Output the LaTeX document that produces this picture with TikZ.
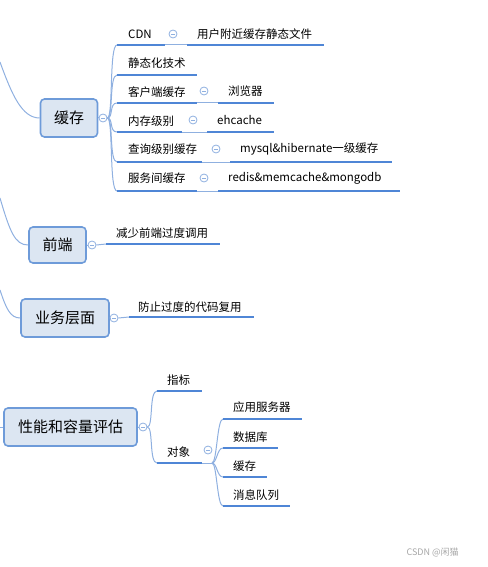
\documentclass[tikz,border=0pt]{standalone}
\usepackage{fontspec}
\setmainfont{Noto Sans CJK SC}
\usepackage{tikz}
\usetikzlibrary{calc}
\definecolor{mapBlue}{HTML}{4F86D6}
\definecolor{mapLine}{HTML}{8FB0E0}
\definecolor{mapFill}{HTML}{DCE6F2}
\definecolor{mapEdge}{HTML}{6E9BD9}
\tikzset{
	topic/.style={draw=mapEdge, line width=1.6pt, fill=mapFill, rounded corners=4pt, inner sep=0pt, font=\fontsize{15}{17}\selectfont},
	leaf/.style={anchor=west, inner sep=0pt, font=\fontsize{11.5}{13}\selectfont},
	uline/.style={mapBlue, line width=2.4pt},
	twig/.style={mapLine, line width=1pt},
	fold/.style={circle, draw=mapLine, fill=white, line width=0.8pt, minimum size=8pt, inner sep=0pt,
		path picture={\draw[mapLine, line width=0.8pt] ($(path picture bounding box.center)+(-2.2pt,0)$) -- ($(path picture bounding box.center)+(2.2pt,0)$);}}
}

\begin{document}
\begin{tikzpicture}[x=1pt, y=-1pt]
	\useasboundingbox (0,0) rectangle (487,567);
	% \draw[red] (0,0) grid[step=50] (487,567);

	% top level topics
	\node[topic, minimum width=57pt, minimum height=38pt] (cache) at (69,118) {缓存};
	\node[topic, minimum width=57pt, minimum height=36pt] (front) at (57.5,245) {前端};
	\node[topic, minimum width=88pt, minimum height=38pt] (biz) at (65,318) {业务层面};
	\node[topic, minimum width=133pt, minimum height=38pt] (perf) at (70.5,427) {性能和容量评估};

	\coordinate (r1) at (0,62);
	\coordinate (r2) at (0,198);
	\coordinate (r3) at (0,290);
	\coordinate (r4) at (0,427);
	\draw[twig] (r1) .. controls (12,95) and (22,118) .. (cache.west);
	\draw[twig] (r2) .. controls (10,232) and (15,245) .. (front.west);
	\draw[twig] (r3) .. controls (6,308) and (10,318) .. (biz.west);
	\draw[twig] (r4) -- (perf.west);

	\node[fold] (fc) at (103,118) {};
	\node[fold] (ff) at (92,245) {};
	\node[fold] (fb) at (114,318) {};
	\node[fold] (fp) at (143,427) {};
	\draw[twig] (cache.east) -- (fc.west);
	\draw[twig] (front.east) -- (ff.west);
	\draw[twig] (biz.east) -- (fb.west);
	\draw[twig] (perf.east) -- (fp.west);

	% children of cache
	\coordinate (c1a) at (117,45);  \coordinate (c1b) at (165,45);
	\coordinate (c2a) at (117,75);  \coordinate (c2b) at (197,75);
	\coordinate (c3a) at (117,103); \coordinate (c3b) at (197,103);
	\coordinate (c4a) at (117,132); \coordinate (c4b) at (182,132);
	\coordinate (c5a) at (117,162); \coordinate (c5b) at (202,162);
	\coordinate (c6a) at (117,191); \coordinate (c6b) at (197,191);
	\foreach \k in {1,...,6}
		\draw[twig] (fc.east) .. controls +(6,0) and +(-8,0) .. (c\k a);
	\foreach \k in {1,...,6}
		\draw[uline] (c\k a) -- (c\k b);
	\node[leaf] (cdn) at (128,34) {CDN};
	\node[leaf] (stat) at (128,63) {静态化技术};
	\node[leaf] (client) at (128,92) {客户端缓存};
	\node[leaf] (mem) at (128,121) {内存级别};
	\node[leaf] (query) at (128,149) {查询级别缓存};
	\node[leaf] (svc) at (128,178) {服务间缓存};

	% grandchildren of cache
	\coordinate (g1a) at (187,45);  \coordinate (g1b) at (324,45);
	\coordinate (g3a) at (218,103); \coordinate (g3b) at (274,103);
	\coordinate (g4a) at (207,132); \coordinate (g4b) at (274,132);
	\coordinate (g5a) at (230,162); \coordinate (g5b) at (392,162);
	\coordinate (g6a) at (218,191); \coordinate (g6b) at (400,191);
	\foreach \k in {1,3,4,5,6}{
		\draw[twig] (c\k b) -- (g\k a);
		\draw[uline] (g\k a) -- (g\k b);
	}
	\node[fold] (f1) at (173,34) {};
	\node[fold] (f3) at (204,91) {};
	\node[fold] (f4) at (193,120) {};
	\node[fold] (f5) at (216,149) {};
	\node[fold] (f6) at (204,178) {};
	\node[leaf] (near) at (197,34) {用户附近缓存静态文件};
	\node[leaf] (browser) at (228,91) {浏览器};
	\node[leaf] (ehc) at (217,120) {ehcache};
	\node[leaf] (mysql) at (240,149) {mysql\&hibernate一级缓存};
	\node[leaf] (redis) at (228,178) {redis\&memcache\&mongodb};

	% front and business
	\coordinate (fa) at (106,244); \coordinate (fz) at (220,244);
	\coordinate (ba) at (129,317); \coordinate (bz) at (254,317);
	\draw[twig] (ff.east) -- (fa);
	\draw[twig] (fb.east) -- (ba);
	\draw[uline] (fa) -- (fz);
	\draw[uline] (ba) -- (bz);
	\node[leaf] (less) at (116,233) {减少前端过度调用};
	\node[leaf] (reuse) at (138,307) {防止过度的代码复用};

	% performance and capacity
	\coordinate (pa) at (157,391); \coordinate (pz) at (202,391);
	\coordinate (oa) at (157,463); \coordinate (oz) at (202,463);
	\draw[twig] (fp.east) .. controls +(6,0) and +(-8,0) .. (pa);
	\draw[twig] (fp.east) .. controls +(6,0) and +(-8,0) .. (oa);
	\draw[uline] (pa) -- (pz);
	\draw[uline] (oa) -- (oz);
	\node[leaf] (index) at (167,380) {指标};
	\node[leaf] (obj) at (167,452) {对象};
	\node[fold] (fo) at (208,450) {};

	\coordinate (hub) at (212,463);
	\coordinate (o1a) at (223,419); \coordinate (o1b) at (302,419);
	\coordinate (o2a) at (223,448); \coordinate (o2b) at (278,448);
	\coordinate (o3a) at (223,477); \coordinate (o3b) at (267,477);
	\coordinate (o4a) at (223,506); \coordinate (o4b) at (290,506);
	\draw[twig] (oz) -- (hub);
	\foreach \k in {1,...,4}{
		\draw[twig] (hub) .. controls +(5,0) and +(-6,0) .. (o\k a);
		\draw[uline] (o\k a) -- (o\k b);
	}
	\node[leaf] (appsrv) at (233,407) {应用服务器};
	\node[leaf] (db) at (233,437) {数据库};
	\node[leaf] (ocache) at (233,466) {缓存};
	\node[leaf] (mq) at (233,495) {消息队列};

	\node[anchor=west, text=gray!70, font=\fontsize{9}{10}\selectfont] (mark) at (403,552) {CSDN @闲猫};
\end{tikzpicture}
\end{document}
